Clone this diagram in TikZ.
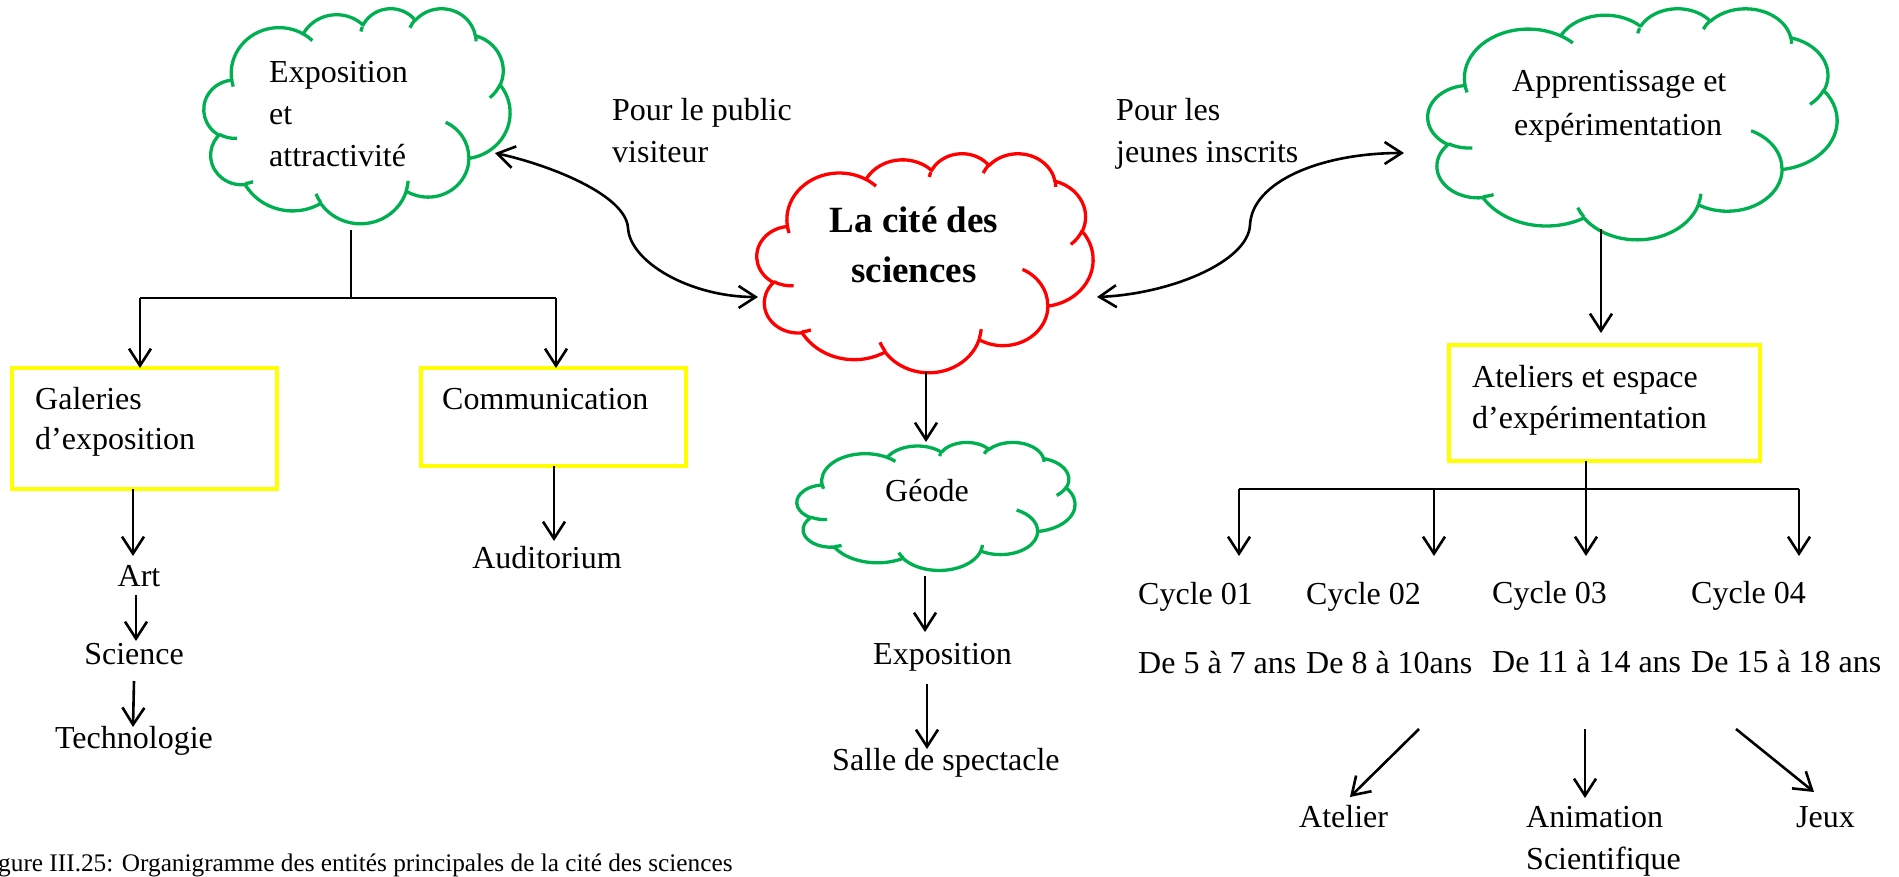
\documentclass[tikz,border=0pt]{standalone}
\usepackage{fontspec}
\setmainfont{Liberation Serif}
\usetikzlibrary{arrows.meta,calc}
\definecolor{cgreen}{RGB}{0,176,80}
\definecolor{cred}{RGB}{255,0,0}
\definecolor{cyellow}{RGB}{255,255,0}
\newcommand\cpa[3]{atan2((#2)*sin(#1),(#3)*cos(#1))}
\newcommand\carc[4]{arc[start angle={\cpa{#1}{#3}{#4}}, delta angle={mod(\cpa{#1+#2}{#3}{#4}-\cpa{#1}{#3}{#4}+720,360)}, x radius=#3, y radius=#4]}
\newcommand\wcloud[4]{%
\begin{scope}[shift={(#1.north west)}, x=#2pt, y=-#3pt, line width=3.3pt, color=#4]
\draw[line join=round] (3.900,14.370)
 \carc{-190.4875}{123.7805}{6.753}{9.190}
 \carc{-144.1024}{89.9452}{5.333}{7.267}
 \carc{-145.8079}{99.7230}{4.365}{5.945}
 \carc{-130.9861}{117.2417}{4.857}{6.595}
 \carc{-78.7089}{109.0269}{5.333}{7.273}
 \carc{-46.2673}{130.2690}{6.775}{9.220}
 \carc{0.6250}{114.0333}{5.785}{7.867}
 \carc{22.4516}{115.1726}{6.752}{9.215}
 \carc{66.2426}{75.7110}{7.720}{10.543}
 \carc{-274.9421}{146.7356}{4.360}{5.918}
 \carc{-246.8285}{152.5189}{4.345}{5.945} -- cycle;
\draw (4.693,26.177) \carc{86.7420}{26.4295}{4.345}{5.945}
 (6.928,34.899) \carc{73.6105}{11.4475}{4.360}{5.918}
 (16.478,39.090) \carc{137.6242}{14.0811}{6.752}{9.215}
 (28.827,34.751) \carc{6.4533}{15.9984}{6.752}{9.215}
 (34.129,22.954) \carc{-70.2924}{70.9174}{5.785}{7.867}
 (41.798,15.354) \carc{30.3180}{27.7515}{5.333}{7.273}
 (38.324,5.426) \carc{-13.7443}{14.8589}{4.857}{6.595}
 (29.078,3.952) \carc{-149.1815}{18.1954}{4.857}{6.595}
 (22.141,4.720) \carc{-163.4943}{12.0362}{4.365}{5.945}
 (14.000,5.192) \carc{-66.7070}{12.3194}{6.753}{9.190}
 (4.127,15.789) \carc{157.6544}{11.8582}{6.753}{9.190};
\end{scope}}
\begin{document}
\begin{tikzpicture}[x=1pt,y=-1pt,
 txt/.style={inner sep=0pt, anchor=base west, font=\fontsize{32}{38}\selectfont},
 ctxt/.style={txt, anchor=base},
 bigb/.style={inner sep=0pt, anchor=base, font=\fontsize{37}{44}\selectfont\bfseries},
 captxt/.style={inner sep=0pt, anchor=base west, font=\fontsize{25.3}{30}\selectfont},
 ybox/.style={draw=cyellow, line width=3.3pt, inner sep=0pt, outer sep=0pt},
 cloudbox/.style={inner sep=0pt, outer sep=0pt},
 ln/.style={line width=2.6pt},
 arr/.style={ln, -{Straight Barb[length=17pt,width=22pt]}},
 darr/.style={ln, {Straight Barb[length=17pt,width=22pt]}-{Straight Barb[length=17pt,width=22pt]}}]
\useasboundingbox (0,0) rectangle (1899,876);

% clouds
\node[cloudbox, minimum width=306pt, minimum height=215pt] (expo) at (357,115.5) {};
\node[cloudbox, minimum width=336pt, minimum height=219pt] (cite) at (925,262.5) {};
\node[cloudbox, minimum width=409pt, minimum height=231pt] (appr) at (1632.5,123.5) {};
\node[cloudbox, minimum width=278pt, minimum height=128pt] (geode) at (936,506) {};
\wcloud{expo}{7.0833}{4.9769}{cgreen}
\wcloud{cite}{7.7778}{5.0694}{cred}
\wcloud{appr}{9.4676}{5.3472}{cgreen}
\wcloud{geode}{6.4352}{2.9630}{cgreen}

% boxes
\node[ybox, minimum width=265pt, minimum height=121pt] (gal) at (144.5,428.5) {};
\node[ybox, minimum width=265pt, minimum height=98pt] (com) at (553.5,417) {};
\node[ybox, minimum width=311pt, minimum height=116pt] (atel) at (1604.5,403) {};

% texts
\node[txt] (e1) at (269,82) {Exposition};
\node[txt] (e2) at (269,124) {et};
\node[txt] (e3) at (269,166) {attractivité};
\node[txt] (p1) at (612,120) {Pour le public};
\node[txt] (p2) at (612,162) {visiteur};
\node[bigb] (c1) at (914,232) {La cité des};
\node[bigb] (c2) at (914,282) {sciences};
\node[txt] (j1) at (1116,120) {Pour les};
\node[txt] (j2) at (1116,162) {jeunes inscrits};
\node[txt] (a1) at (1512,91) {Apprentissage et};
\node[txt] (a2) at (1514,135) {expérimentation};
\node[txt] (g1) at (35,409) {Galeries};
\node[txt] (g2) at (35,449) {d’exposition};
\node[txt] (cm) at (442,409) {Communication};
\node[txt] (t1) at (1472,387) {Ateliers et espace};
\node[txt] (t2) at (1472,428) {d’expérimentation};
\node[ctxt] (art) at (139,586) {Art};
\node[ctxt] (sci) at (134,664) {Science};
\node[ctxt] (tech) at (134,748) {Technologie};
\node[ctxt] (aud) at (547,568) {Auditorium};
\node[txt] (geo) at (885,501) {Géode};
\node[txt] (ex2) at (873,664) {Exposition};
\node[txt] (salle) at (832,770) {Salle de spectacle};
\node[txt] (cy1) at (1138,604) {Cycle 01};
\node[txt] (cy2) at (1306,604) {Cycle 02};
\node[txt] (cy3) at (1492,603) {Cycle 03};
\node[txt] (cy4) at (1691,603) {Cycle 04};
\node[txt] (ag1) at (1138,673) {De 5 à 7 ans};
\node[txt] (ag2) at (1306,673) {De 8 à 10ans};
\node[txt] (ag3) at (1492,672) {De 11 à 14 ans};
\node[txt] (ag4) at (1691,672) {De 15 à 18 ans};
\node[txt] (ate) at (1299,827) {Atelier};
\node[txt] (ani1) at (1526,827) {Animation};
\node[txt] (ani2) at (1526,869) {Scientifique};
\node[txt] (jeux) at (1796,827) {Jeux};
\node[captxt] (cap) at (-2,871) {gure III.25: Organigramme des entités principales de la cité des sciences};

% left branch
\coordinate (e0) at (351,230);
\coordinate (bM) at (351,298);
\coordinate (bL) at (140,298);
\coordinate (bR) at (556,298);
\draw[ln] (e0) -- (bM);
\draw[ln] (bL) -- (bR);
\draw[arr] (bL) -- (bL |- gal.north);
\draw[arr] (bR) -- (bR |- com.north);
\coordinate (ga2) at (133,556);
\draw[arr] (ga2 |- gal.south) -- (ga2);
\coordinate (as1) at (136,595); \coordinate (as2) at (136,641);
\draw[arr] (as1) -- (as2);
\coordinate (st1) at (134,681); \coordinate (st2) at (133,727);
\draw[arr] (st1) -- (st2);
\coordinate (ca2) at (554,541);
\draw[arr] (ca2 |- com.south) -- (ca2);

% centre branch
\coordinate (cg2) at (926,442);
\draw[arr] (cg2 |- cite.south) -- (cg2);
\coordinate (ge1) at (925,576); \coordinate (ge2) at (925,632);
\draw[arr] (ge1) -- (ge2);
\coordinate (es1) at (927,684); \coordinate (es2) at (927,749);
\draw[arr] (es1) -- (es2);

% curved links
\coordinate (cv1a) at (495,153); \coordinate (cv1b) at (758,297);
\draw[darr] (cv1a) .. controls (550,165) and (626,195) .. (628,228) .. controls (630,262) and (690,297) .. (cv1b);
\coordinate (cv2a) at (1097,297); \coordinate (cv2b) at (1404,153);
\draw[darr] (cv2a) .. controls (1170,294) and (1248,262) .. (1250,225) .. controls (1252,182) and (1320,153) .. (cv2b);

% right branch
\coordinate (aa1) at (1601,229); \coordinate (aa2) at (1601,333);
\draw[arr] (aa1) -- (aa2);
\coordinate (rb1) at (1239,489); \coordinate (rb2) at (1434,489);
\coordinate (rb3) at (1586,489); \coordinate (rb4) at (1799,489);
\draw[ln] (rb3 |- atel.south) -- (rb3);
\draw[ln] (rb1) -- (rb4);
\foreach \c in {rb1,rb2,rb3,rb4} \draw[arr] (\c) -- (\c |- 0,556);
\coordinate (at1) at (1419,729); \coordinate (at2) at (1350,797);
\draw[arr] (at1) -- (at2);
\coordinate (an1) at (1585,729); \coordinate (an2) at (1585,798);
\draw[arr] (an1) -- (an2);
\coordinate (je1) at (1736,729); \coordinate (je2) at (1814,792);
\draw[arr] (je1) -- (je2);
\end{tikzpicture}
\end{document}
